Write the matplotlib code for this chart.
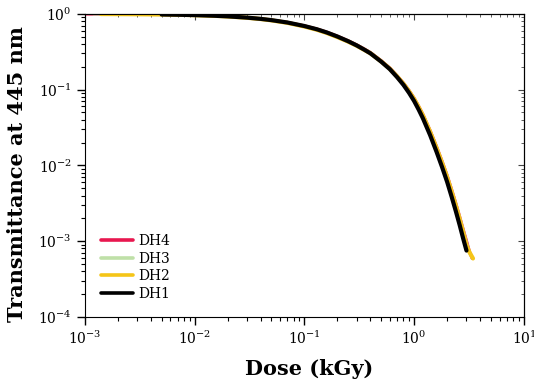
# Transmittance at 445 nm vs absorbed dose for four dosimeter batches
import numpy as np
import matplotlib.pyplot as plt
from matplotlib.ticker import LogLocator, LogFormatterMathtext, NullFormatter

plt.rcParams['font.family'] = ['DejaVu Serif']
plt.rcParams['mathtext.fontset'] = 'dejavuserif'

# dose in kGy, transmittance (fraction)
dose_dh4 = [0.001, 0.002, 0.003, 0.005, 0.007, 0.01, 0.015, 0.02, 0.03, 0.04, 0.05, 0.07,
            0.1, 0.13, 0.16, 0.2, 0.25, 0.3, 0.35, 0.4, 0.5, 0.6, 0.7, 0.8, 0.9, 1.0,
            1.1, 1.2, 1.4, 1.6, 1.8, 2.0, 2.2, 2.4, 2.6, 2.8, 3.0, 3.2, 3.38]
trans_dh4 = [0.9963, 0.9925, 0.9888, 0.9814, 0.9741, 0.9632, 0.9453, 0.9277, 0.8936, 0.8607,
             0.8290, 0.7718, 0.6949, 0.6312, 0.5740, 0.5076, 0.4426, 0.3899, 0.3451, 0.3085,
             0.2417, 0.1932, 0.1521, 0.1220, 0.0972, 0.0773, 0.0605, 0.0475, 0.0288, 0.01774,
             0.01131, 0.00737, 0.00477, 0.00315, 0.00211, 0.00143, 0.00101, 0.000723, 0.00059]

dose_dh3 = [0.0012, 0.002, 0.003, 0.005, 0.007, 0.01, 0.015, 0.02, 0.03, 0.04, 0.05, 0.07,
            0.1, 0.13, 0.16, 0.2, 0.25, 0.3, 0.35, 0.4, 0.5, 0.6, 0.7, 0.8, 0.9, 1.0,
            1.1, 1.2, 1.4, 1.6, 1.8, 2.0, 2.2, 2.4, 2.6, 2.8, 3.0, 3.2, 3.4]
trans_dh3 = [0.9955, 0.9923, 0.9885, 0.9809, 0.9734, 0.9622, 0.9439, 0.9258, 0.8909, 0.8573,
             0.8249, 0.7664, 0.6880, 0.6239, 0.5667, 0.5006, 0.4366, 0.3847, 0.3403, 0.3048,
             0.2387, 0.1909, 0.1505, 0.1205, 0.0959, 0.0761, 0.0595, 0.0466, 0.0282, 0.01732,
             0.01101, 0.00715, 0.00461, 0.00304, 0.00203, 0.00137, 0.00095, 0.00070, 0.00059]

dose_dh2 = [0.0014, 0.002, 0.003, 0.005, 0.007, 0.01, 0.015, 0.02, 0.03, 0.04, 0.05, 0.07,
            0.1, 0.13, 0.16, 0.2, 0.25, 0.3, 0.35, 0.4, 0.5, 0.6, 0.7, 0.8, 0.9, 1.0,
            1.1, 1.2, 1.4, 1.6, 1.8, 2.0, 2.2, 2.4, 2.6, 2.8, 3.0, 3.2, 3.44]
trans_dh2 = [0.9945, 0.9921, 0.9882, 0.9804, 0.9727, 0.9613, 0.9425, 0.9240, 0.8882, 0.8539,
             0.8208, 0.7610, 0.6811, 0.6166, 0.5595, 0.4936, 0.4306, 0.3795, 0.3355, 0.3012,
             0.2357, 0.1886, 0.1490, 0.1191, 0.0946, 0.0750, 0.0585, 0.0458, 0.0276, 0.01691,
             0.01071, 0.00694, 0.00446, 0.00293, 0.00195, 0.00130, 0.00088, 0.00071, 0.00059]

dose_dh1 = [0.005, 0.007, 0.01, 0.015, 0.02, 0.03, 0.04, 0.05, 0.07,
            0.1, 0.13, 0.16, 0.2, 0.25, 0.3, 0.35, 0.4, 0.5, 0.6, 0.7, 0.8, 0.9, 1.0,
            1.1, 1.2, 1.4, 1.6, 1.8, 2.0, 2.2, 2.4, 2.6, 2.8, 3.0]
trans_dh1 = [0.9812, 0.9738, 0.9627, 0.9446, 0.9268, 0.8922, 0.8589, 0.8270, 0.7690,
             0.6910, 0.6260, 0.5680, 0.5020, 0.4360, 0.3830, 0.3380, 0.3010, 0.2346, 0.1864,
             0.1459, 0.1153, 0.0904, 0.0707, 0.0545, 0.0421, 0.0250, 0.01512, 0.00945,
             0.00604, 0.00383, 0.00248, 0.00163, 0.00108, 0.00075]

fig = plt.figure(figsize=(5.34, 3.85), dpi=100)
ax = fig.add_axes([0.159, 0.177, 0.822, 0.787])

ax.plot(dose_dh4, trans_dh4, color='#e8174f', lw=2.2, label='DH4', solid_capstyle='round')
ax.plot(dose_dh3, trans_dh3, color='#bfe0a8', lw=2.2, label='DH3', solid_capstyle='round')
ax.plot(dose_dh2, trans_dh2, color='#f5c518', lw=3.0, label='DH2', solid_capstyle='round')
ax.plot(dose_dh1, trans_dh1, color='black', lw=3.0, label='DH1', solid_capstyle='round')

ax.set_xscale('log')
ax.set_yscale('log')
ax.set_xlim(1e-3, 1e1)
ax.set_ylim(1e-4, 1e0)


def log_ticks(axis, labels=True):
    axis.set_major_locator(LogLocator(base=10, numticks=10))
    axis.set_minor_locator(LogLocator(base=10, subs=np.arange(2, 10), numticks=50))
    axis.set_minor_formatter(NullFormatter())
    axis.set_major_formatter(LogFormatterMathtext() if labels else NullFormatter())


log_ticks(ax.xaxis)
log_ticks(ax.yaxis)
ax.tick_params(which='major', direction='out', length=6, width=1, labelsize=10,
               top=False, right=False)
ax.tick_params(which='minor', direction='out', length=3, width=0.8, top=False, right=False)

# inward ticks on the top and right frame
top = ax.secondary_xaxis('top')
right = ax.secondary_yaxis('right')
log_ticks(top.xaxis, labels=False)
log_ticks(right.yaxis, labels=False)
for sec in (top, right):
    sec.tick_params(which='major', direction='in', length=4, width=0.8, colors='#444444')
    sec.tick_params(which='minor', direction='in', length=2.5, width=0.6, colors='#444444')

ax.set_xlabel('Dose (kGy)', fontsize=15, fontweight='bold')
ax.set_ylabel('Transmittance at 445 nm', fontsize=15, fontweight='bold')
ax.xaxis.set_label_coords(0.51, -0.14)
ax.yaxis.set_label_coords(-0.132, 0.47)

leg = ax.legend(loc='lower left', frameon=False, handlelength=2.3,
                handletextpad=0.4, labelspacing=0.26, borderaxespad=0.75,
                prop={'family': 'DejaVu Serif', 'size': 10})
for h in leg.get_lines():
    h.set_linewidth(2.6)

fig.savefig('out.png', dpi=100)
